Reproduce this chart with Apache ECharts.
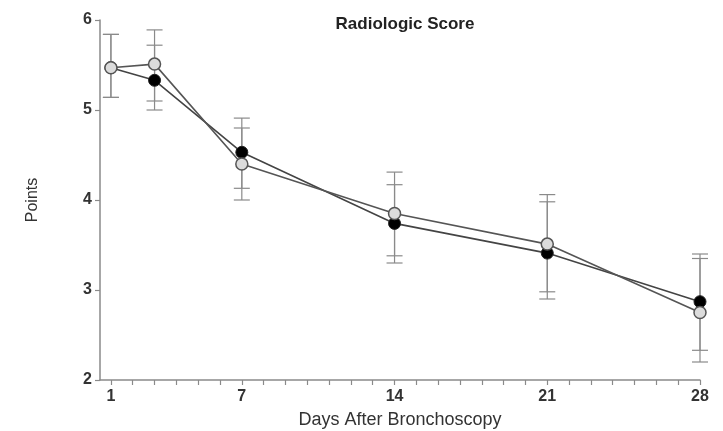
<!DOCTYPE html>
<html>
<head>
<meta charset="utf-8">
<script src="https://cdn.jsdelivr.net/npm/echarts@6/dist/echarts.min.js"></script>
<style>html,body{margin:0;padding:0;background:#fff}#c{width:723px;height:431px}</style>
</head>
<body>
<div id="c"></div>
<script>
var days = [1, 3, 7, 14, 21, 28];
var blackMean  = [5.47, 5.33, 4.53, 3.74, 3.41, 2.87];
var blackUpper = [5.84, 5.72, 4.91, 4.17, 3.98, 3.40];
var blackLower = [5.14, 5.00, 4.13, 3.30, 2.90, 2.33];
var grayMean   = [5.47, 5.51, 4.40, 3.85, 3.51, 2.75];
var grayUpper  = [5.84, 5.89, 4.80, 4.31, 4.06, 3.35];
var grayLower  = [5.14, 5.10, 4.00, 3.38, 2.98, 2.20];
var xTickValues = [1,2,3,4,5,6,7,8,9,10,11,12,13,14,15,16,17,18,19,20,21,22,23,24,25,26,27,28];
var xLabelValues = [1, 7, 14, 21, 28];

function pts(m) { return days.map(function (d, i) { return [d, m[i]]; }); }
function errData(lo, hi) { return days.map(function (d, i) { return [d, lo[i], hi[i]]; }); }

function errRender(params, api) {
  var x = api.value(0);
  var lo = api.coord([x, api.value(1)]);
  var hi = api.coord([x, api.value(2)]);
  var hw = 8;
  var st = { stroke: '#8a8a8a', lineWidth: 1.2 };
  return {
    type: 'group',
    children: [
      { type: 'line', shape: { x1: hi[0], y1: hi[1], x2: lo[0], y2: lo[1] }, style: st },
      { type: 'line', shape: { x1: hi[0] - hw, y1: hi[1], x2: hi[0] + hw, y2: hi[1] }, style: st },
      { type: 'line', shape: { x1: lo[0] - hw, y1: lo[1], x2: lo[0] + hw, y2: lo[1] }, style: st }
    ]
  };
}

var chart = echarts.init(document.getElementById('c'));
chart.setOption({
  animation: false,
  backgroundColor: '#fff',
  title: {
    text: 'Radiologic Score',
    left: 400, top: 11, textAlign: 'center',
    textStyle: { fontFamily: 'Liberation Sans', fontSize: 17, fontWeight: 'bold', color: '#222' }
  },
  grid: { left: 100, right: 23, top: 20, bottom: 51, containLabel: false, outerBoundsMode: 'none' },
  xAxis: {
    type: 'value', min: 0.5, max: 28,
    name: 'Days After Bronchoscopy', nameLocation: 'middle', nameGap: 31,
    nameTextStyle: { fontFamily: 'Liberation Sans', fontSize: 18, color: '#333' },
    splitLine: { show: false },
    axisLine: { lineStyle: { color: '#8a8a8a', width: 1.5 } },
    axisTick: { customValues: xTickValues, length: 5, lineStyle: { color: '#8a8a8a', width: 1.2 } },
    axisLabel: { customValues: xLabelValues, margin: 9, fontFamily: 'Liberation Sans', fontSize: 16, fontWeight: 'bold', color: '#333' }
  },
  yAxis: {
    type: 'value', min: 2, max: 6, interval: 1,
    name: 'Points', nameLocation: 'middle', nameGap: 59,
    nameTextStyle: { fontFamily: 'Liberation Sans', fontSize: 16, color: '#333' },
    splitLine: { show: false },
    axisLine: { show: true, lineStyle: { color: '#8a8a8a', width: 1.5 } },
    axisTick: { show: true, length: 5, lineStyle: { color: '#8a8a8a', width: 1.2 } },
    axisLabel: { margin: 8, fontFamily: 'Liberation Sans', fontSize: 16, fontWeight: 'bold', color: '#333' }
  },
  series: [
    { type: 'custom', renderItem: errRender, data: errData(blackLower, blackUpper), z: 1, silent: true },
    { type: 'custom', renderItem: errRender, data: errData(grayLower, grayUpper), z: 1, silent: true },
    {
      type: 'line', data: pts(blackMean), z: 3,
      symbol: 'circle', symbolSize: 12,
      lineStyle: { color: '#444', width: 1.6 },
      itemStyle: { color: '#000', borderColor: '#222', borderWidth: 1 }
    },
    {
      type: 'line', data: pts(grayMean), z: 4,
      symbol: 'circle', symbolSize: 12,
      lineStyle: { color: '#555', width: 1.6 },
      itemStyle: { color: '#dcdcdc', borderColor: '#555', borderWidth: 1.5 }
    }
  ]
});
</script>
</body>
</html>
